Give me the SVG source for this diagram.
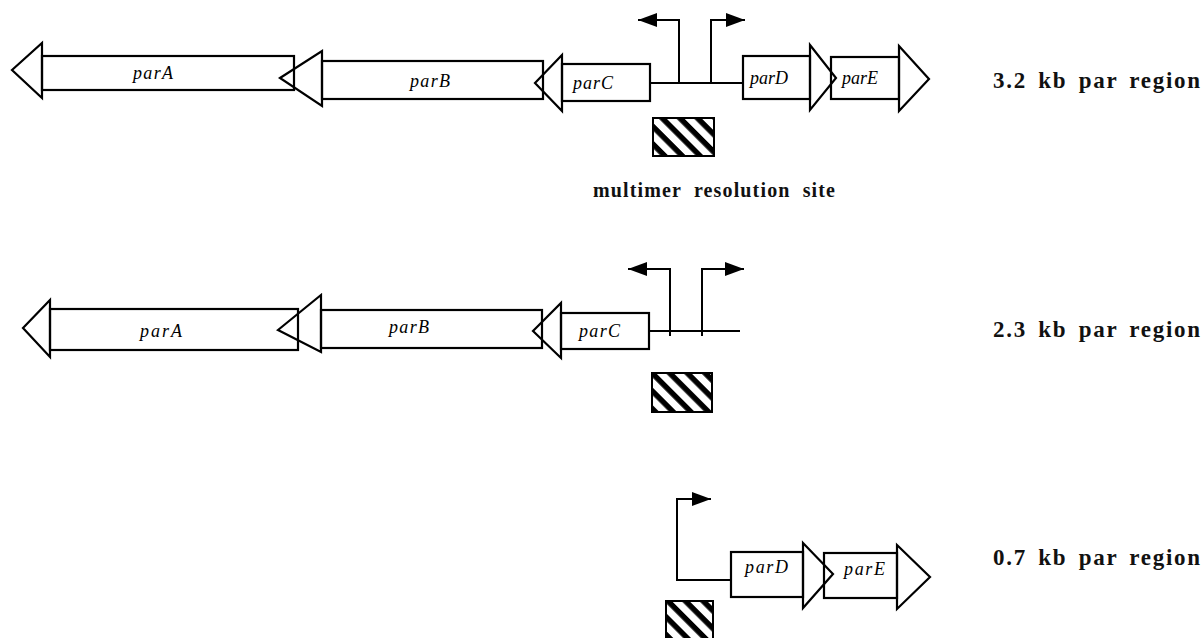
<svg xmlns="http://www.w3.org/2000/svg" width="1203" height="638" viewBox="0 0 1203 638">
<style>
.o{fill:none;stroke:#000;stroke-width:2.2;stroke-linejoin:miter}
.ln{fill:none;stroke:#000;stroke-width:2}
.g{font-family:"Liberation Serif","Times New Roman",serif;font-style:italic;font-size:18px;fill:#000}
.lb{font-family:"Liberation Serif","Times New Roman",serif;font-weight:bold;font-size:23px;word-spacing:4px;fill:#111}
.ms{font-family:"Liberation Serif","Times New Roman",serif;font-weight:bold;font-size:20px;word-spacing:6px;fill:#111}
.h{fill:url(#hatch);stroke:#000;stroke-width:2}
</style>
<defs>
<pattern id="hatch" patternUnits="userSpaceOnUse" width="12" height="12.5" patternTransform="rotate(45)">
<rect x="0" y="0" width="12" height="12.5" fill="#fff"/>
<rect x="0" y="0" width="12" height="5.5" fill="#000"/>
</pattern>
<marker id="prom" markerUnits="userSpaceOnUse" markerWidth="19" markerHeight="14" viewBox="0 0 19 14" refX="19" refY="7" orient="auto">
<path d="M0,0 L19,7 L0,14 z" fill="#000"/>
</marker>
</defs>
<rect width="1203" height="638" fill="#fff"/>

<!-- Row 1: 3.2 kb -->
<g id="r1-parA">
<rect class="o" x="42" y="56" width="252" height="34"/>
<polygon class="o" points="12,70 42,43 42,98"/>
<text class="g" x="133" y="79" textLength="40" lengthAdjust="spacing">parA</text>
</g>
<g id="r1-parB">
<rect class="o" x="322" y="61" width="221" height="38"/>
<polygon class="o" points="280,78 322,51 322,106"/>
<text class="g" x="410" y="87" textLength="40" lengthAdjust="spacing">parB</text>
</g>
<g id="r1-parC">
<rect class="o" x="562" y="64" width="88" height="37"/>
<polygon class="o" points="535,83 562,55 562,111"/>
<text class="g" x="573" y="89" textLength="40" lengthAdjust="spacing">parC</text>
</g>
<g id="r1-parD">
<rect class="o" x="743" y="56" width="67" height="43"/>
<polygon class="o" points="810,45 836,78 810,110"/>
<text class="g" x="750" y="84" textLength="38" lengthAdjust="spacingAndGlyphs">parD</text>
</g>
<g id="r1-parE">
<rect class="o" x="831" y="57" width="68" height="42"/>
<polygon class="o" points="899,46 929,79 899,111"/>
<text class="g" x="842" y="84" textLength="36" lengthAdjust="spacingAndGlyphs">parE</text>
</g>
<g id="r1-site">
<rect class="h" x="653" y="118" width="61" height="38"/>
<text class="ms" x="593" y="197" textLength="242" lengthAdjust="spacing">multimer resolution site</text>
</g>
<g id="r1-label">
<text class="lb" x="993" y="88" textLength="207" lengthAdjust="spacing">3.2 kb par region</text>
</g>

<!-- Row 2: 2.3 kb -->
<g id="r2-parA">
<rect class="o" x="50" y="309" width="248" height="41"/>
<polygon class="o" points="23,328 50,300 50,357"/>
<text class="g" x="140" y="337" textLength="42" lengthAdjust="spacing">parA</text>
</g>
<g id="r2-parB">
<rect class="o" x="321" y="310" width="221" height="38"/>
<polygon class="o" points="278,330 321,295 321,352"/>
<text class="g" x="389" y="333" textLength="40" lengthAdjust="spacing">parB</text>
</g>
<g id="r2-parC">
<rect class="o" x="561" y="313" width="88" height="36"/>
<polygon class="o" points="533,331 561,303 561,358"/>
<text class="g" x="579" y="337" textLength="41" lengthAdjust="spacing">parC</text>
</g>
<g id="r2-site">
<rect class="h" x="652" y="373" width="60" height="39"/>
</g>
<g id="r2-label">
<text class="lb" x="993" y="337" textLength="207" lengthAdjust="spacing">2.3 kb par region</text>
</g>

<!-- Row 3: 0.7 kb -->
<g id="r3-parD">
<rect class="o" x="731" y="552" width="72" height="45"/>
<polygon class="o" points="803,543 833,574 803,608"/>
<text class="g" x="745" y="573" textLength="43" lengthAdjust="spacing">parD</text>
</g>
<g id="r3-parE">
<rect class="o" x="824" y="553" width="73" height="45"/>
<polygon class="o" points="897,545 930,577 897,609"/>
<text class="g" x="844" y="575" textLength="41" lengthAdjust="spacing">parE</text>
</g>
<g id="r3-site">
<rect class="h" x="666" y="601" width="47" height="42"/>
</g>
<g id="r3-label">
<text class="lb" x="993" y="565" textLength="207" lengthAdjust="spacing">0.7 kb par region</text>
</g>

<!-- Connectors: backbones and promoters -->
<g id="connectors">
<path class="ln" d="M650,83 H743"/>
<path class="ln" d="M679,83 V20 H638" marker-end="url(#prom)"/>
<path class="ln" d="M711,83 V20 H745" marker-end="url(#prom)"/>
<path class="ln" d="M649,331 H740"/>
<path class="ln" d="M670,336 V269 H628" marker-end="url(#prom)"/>
<path class="ln" d="M702,336 V269 H744" marker-end="url(#prom)"/>
<path class="ln" d="M731,580 H677 V499 H711" marker-end="url(#prom)"/>
</g>
</svg>
